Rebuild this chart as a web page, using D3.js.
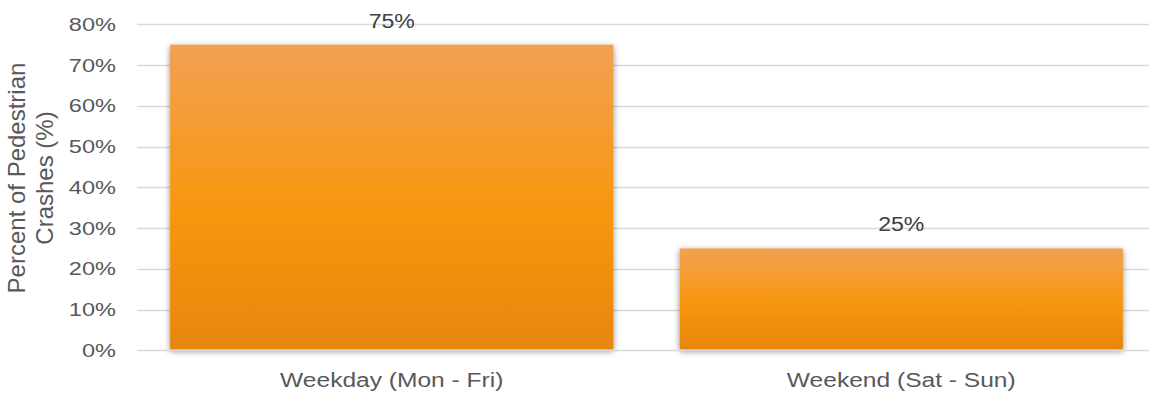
<!DOCTYPE html>
<html>
<head>
<meta charset="utf-8">
<script src="https://cdn.jsdelivr.net/npm/d3@7"></script>
<style>
  html, body { margin: 0; padding: 0; background: #fff; }
  svg { display: block; font-family: "Liberation Sans", Arial, sans-serif; }
</style>
</head>
<body>
<svg id="chart" width="1149" height="393"></svg>
<script>
// Share of pedestrian crashes by day type
const categories = ["Weekday (Mon - Fri)", "Weekend (Sat - Sun)"];
const values = [75, 25];
const yTicks = [0, 10, 20, 30, 40, 50, 60, 70, 80];
const yTitleLines = ["Percent of Pedestrian", "Crashes (%)"];

const svg = d3.select("#chart");
const plotLeft = 137, plotRight = 1156, plotTop = 24.3, plotBottom = 350.3;

const x = d3.scaleBand().domain(categories).range([plotLeft, plotRight]).paddingInner(0.13).paddingOuter(0.065);
const y = d3.scaleLinear().domain([0, 80]).range([plotBottom, plotTop]);

const defs = svg.append("defs");
const grad = defs.append("linearGradient").attr("id", "barFill")
  .attr("x1", 0).attr("y1", 0).attr("x2", 0).attr("y2", 1);
grad.append("stop").attr("offset", "0%").attr("stop-color", "#F2A152");
grad.append("stop").attr("offset", "55%").attr("stop-color", "#F8960E");
grad.append("stop").attr("offset", "100%").attr("stop-color", "#E7860A");

const shadow = defs.append("filter").attr("id", "barShadow")
  .attr("x", "-5%").attr("y", "-10%").attr("width", "110%").attr("height", "125%");
shadow.append("feGaussianBlur").attr("in", "SourceAlpha").attr("stdDeviation", 3).attr("result", "blur");
shadow.append("feOffset").attr("in", "blur").attr("dx", 0).attr("dy", 2).attr("result", "off");
shadow.append("feComponentTransfer").attr("in", "off").attr("result", "soft")
  .append("feFuncA").attr("type", "linear").attr("slope", 0.45);
const merge = shadow.append("feMerge");
merge.append("feMergeNode").attr("in", "soft");
merge.append("feMergeNode").attr("in", "SourceGraphic");

// Gridlines
svg.append("g").selectAll("line").data(yTicks.filter(d => d > 0)).join("line")
  .attr("x1", plotLeft).attr("x2", 1149)
  .attr("y1", d => Math.round(y(d)) + 0.5).attr("y2", d => Math.round(y(d)) + 0.5)
  .attr("stroke", "#D9D9D9").attr("stroke-width", 1.3);

// Y axis (labels are drawn slightly wide)
const tickStretch = 1.24;
const yAxis = svg.append("g").attr("transform", `translate(${plotLeft},0)`)
  .call(d3.axisLeft(y).tickValues(yTicks).tickSize(0).tickPadding(21).tickFormat(d => d + "%"));
yAxis.select(".domain").remove();
yAxis.selectAll("text").attr("fill", "#595959").style("font-size", "19px")
  .style("font-family", "'Liberation Sans', Arial, sans-serif")
  .attr("x", -21 / tickStretch)
  .attr("transform", `scale(${tickStretch},1)`);

// Bars
svg.append("g").selectAll("rect").data(values).join("rect")
  .attr("x", (d, i) => x(categories[i]))
  .attr("width", x.bandwidth())
  .attr("y", d => y(d))
  .attr("height", d => y(0) - y(d) - 1)
  .attr("fill", "url(#barFill)")
  .attr("filter", "url(#barShadow)");

// Baseline
svg.append("line").attr("x1", plotLeft).attr("x2", 1149)
  .attr("y1", Math.round(y(0)) + 0.5).attr("y2", Math.round(y(0)) + 0.5)
  .attr("stroke", "#D9D9D9").attr("stroke-width", 1.3);

// Value labels
svg.append("g").selectAll("g").data(values).join("g")
  .attr("transform", (d, i) => `translate(${x(categories[i]) + x.bandwidth() / 2},${y(d) - 17}) scale(1.1,1)`)
  .append("text")
  .attr("text-anchor", "middle")
  .attr("fill", "#404040").style("font-size", "21px")
  .text(d => d + "%");

// X axis labels
const xAxis = svg.append("g").attr("transform", `translate(0,${plotBottom})`)
  .call(d3.axisBottom(x).tickSize(0).tickPadding(22));
xAxis.select(".domain").remove();
xAxis.selectAll("text").attr("fill", "#595959").style("font-size", "21px")
  .style("font-family", "'Liberation Sans', Arial, sans-serif")
  .attr("transform", "scale(1.17,1)");

// Y axis title
const yt = svg.append("text")
  .attr("transform", `translate(25,178) rotate(-90)`)
  .attr("text-anchor", "middle").attr("fill", "#595959").style("font-size", "24px");
yt.selectAll("tspan").data(yTitleLines).join("tspan")
  .attr("x", 0).attr("dy", (d, i) => i === 0 ? 0 : 28).text(d => d);
</script>
</body>
</html>
